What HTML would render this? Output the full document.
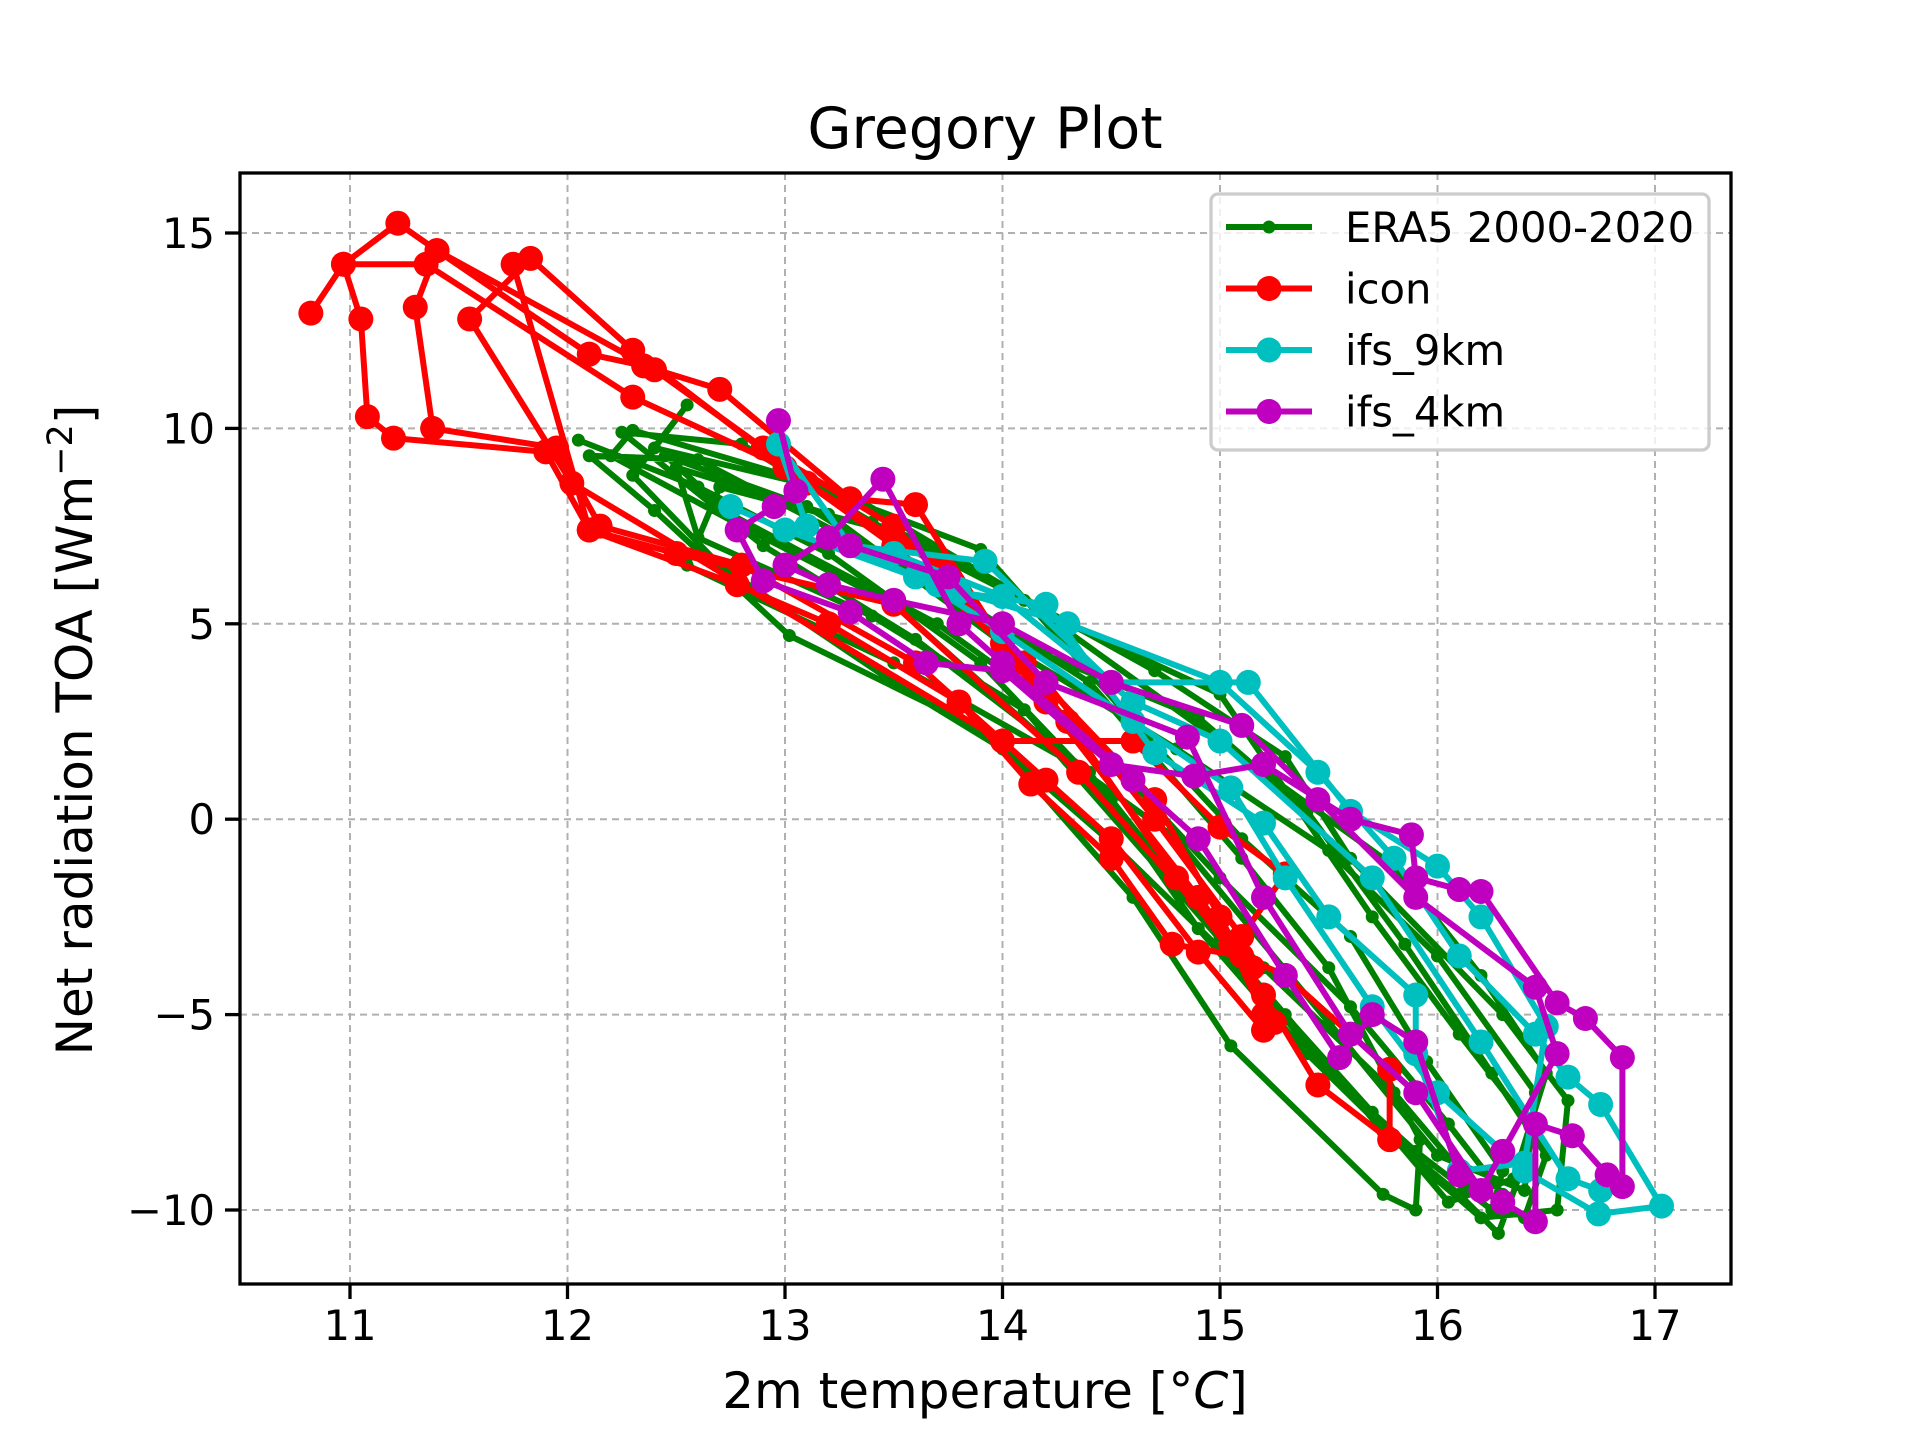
<!DOCTYPE html>
<html><head><meta charset="utf-8">
<style>
html,body{margin:0;padding:0;background:#fff;}
svg{display:block;font-family:"DejaVu Sans","Liberation Sans",sans-serif;}
</style></head>
<body>
<svg id="chart" width="1920" height="1440" viewBox="0 0 1920 1440" xmlns="http://www.w3.org/2000/svg">
<rect width="1920" height="1440" fill="#fff"/>
<text x="985" y="148" font-size="57" text-anchor="middle">Gregory Plot</text>
<g id="grid"></g>
<g id="series"></g>
<rect x="240" y="173" width="1491" height="1111" fill="none" stroke="#000" stroke-width="3.3"/>
<g id="ticks"></g>
<text x="985" y="1408" font-size="50" text-anchor="middle">2m temperature [<tspan>°</tspan><tspan font-style="italic">C</tspan>]</text>
<text transform="translate(92,730) rotate(-90)" font-size="50" text-anchor="middle">Net radiation TOA [Wm<tspan baseline-shift="super" font-size="35">−2</tspan>]</text>
<g id="legend"></g>
</svg>
<script>
const xTicks=[11,12,13,14,15,16,17];
const yTicks=[15,10,5,0,-5,-10];
const yTickLabels=["15","10","5","0","−5","−10"];
const seriesNames=["ERA5 2000-2020","icon","ifs_9km","ifs_4km"];
const era5=[[12.05,9.7],[12.6,8.5],[13.2,6.8],[13.9,4.0],[14.5,0.5],[15.0,-3.0],[15.5,-6.5],[15.9,-8.5],[16.25,-10.0],[16.3,-9.0],[15.95,-6.2],[15.6,-3.0],[15.1,-0.5],[14.6,2.5],[13.9,6.9],[13.0,8.8],[12.3,9.95],[12.2,9.3],[12.8,7.5],[13.5,5.5],[14.2,2.0],[14.8,-1.8],[15.3,-5.0],[15.75,-8.0],[16.1,-9.6],[16.28,-10.6],[16.45,-8.0],[16.1,-5.5],[15.7,-2.5],[15.0,3.2],[14.3,5.0],[13.3,8.3],[12.4,9.5],[12.55,10.6],[12.3,8.8],[12.7,6.5],[13.5,3.5],[14.0,1.8],[14.6,-2.0],[15.05,-5.8],[15.75,-9.6],[15.9,-10.0],[15.92,-8.2],[15.5,-3.8],[15.1,-1.0],[14.4,3.5],[13.7,6.0],[12.6,9.2],[12.1,9.3],[12.4,7.9],[13.02,4.7],[13.9,2.3],[14.5,-0.6],[15.2,-4.4],[15.7,-7.5],[16.05,-9.8],[16.35,-9.2],[16.5,-6.5],[16.2,-4.0],[15.8,-1.2],[15.0,2.0],[14.1,5.6],[13.4,7.6],[12.8,9.6],[12.25,9.9],[12.9,7.0],[13.6,4.6],[14.4,1.2],[14.9,-2.8],[15.4,-6.0],[15.95,-9.0],[16.2,-10.2],[16.55,-10.0],[16.6,-7.2],[16.3,-5.0],[15.6,-1.0],[15.3,1.6],[14.7,3.8],[13.6,7.2],[12.7,8.5],[12.55,6.5],[13.5,4.0],[14.3,1.5],[14.8,-0.5],[15.5,-5.2],[16.0,-8.6],[16.4,-9.5],[16.45,-7.0],[16.0,-3.5],[15.5,-0.8],[14.8,1.8],[14.0,4.5],[13.2,7.8],[12.5,9.0],[12.6,7.2],[13.4,5.2],[14.1,2.8],[14.7,-1.0],[15.2,-3.8],[15.8,-7.0],[16.15,-9.3],[16.4,-10.2],[16.5,-8.6],[16.25,-6.5],[15.85,-3.2],[15.4,0.2],[14.9,2.6],[14.2,4.2],[13.1,8.0],[12.45,9.3],[12.75,7.8],[13.7,5.0],[14.35,2.4],[15.0,-1.5],[15.6,-4.8],[16.05,-7.8],[16.3,-9.6]];
const icon=[[10.82,12.95],[10.97,14.2],[11.22,15.25],[11.4,14.55],[12.1,11.9],[12.35,11.6],[12.7,11.0],[13.3,8.2],[13.6,8.05],[14.0,4.5],[14.3,2.5],[14.8,-1.5],[15.2,-4.5],[15.45,-6.8],[15.78,-8.2],[15.78,-6.4],[15.3,-4.0],[15.1,-3.5],[14.78,-3.2],[14.5,-1.0],[14.13,0.9],[13.8,3.0],[13.2,5.0],[12.78,6.0],[12.1,7.4],[11.9,9.4],[11.2,9.75],[11.08,10.3],[11.05,12.8],[10.97,14.2],[11.35,14.2],[12.3,10.8],[13.0,9.0],[13.5,7.0],[14.1,4.0],[14.7,0.5],[15.0,-2.5],[15.25,-5.2],[15.2,-5.4],[14.9,-3.4],[14.5,-0.5],[14.2,1.0],[13.6,4.0],[12.8,6.5],[12.15,7.5],[11.95,9.5],[11.38,10.0],[11.3,13.1],[11.4,14.55],[12.4,11.5],[12.9,9.5],[13.5,7.5],[14.2,3.5],[14.7,0.0],[15.1,-3.0],[15.3,-1.4],[15.0,-0.2],[14.6,2.0],[14.0,2.0],[12.02,8.6],[11.55,12.8],[11.83,14.35],[12.3,12.0],[13.1,8.6],[13.7,6.5],[14.2,3.0],[14.9,-2.0],[15.15,-3.8],[15.2,-5.0],[15.05,-3.2],[14.35,1.2],[13.5,5.5],[12.5,6.8],[12.1,7.4],[11.75,14.2]];
const ifs9=[[12.75,8.0],[13.0,7.4],[13.7,6.0],[14.3,5.0],[15.0,3.5],[15.45,1.2],[15.8,-1.0],[16.1,-3.5],[16.45,-5.5],[16.6,-6.6],[16.75,-7.3],[17.03,-9.9],[16.74,-10.1],[16.4,-9.0],[16.0,-7.0],[15.7,-4.8],[15.3,-1.5],[15.05,0.8],[14.6,2.5],[14.0,4.8],[13.6,6.2],[13.1,7.5],[12.97,9.6],[13.3,7.0],[13.92,6.6],[14.5,3.5],[15.13,3.5],[15.6,0.2],[16.0,-1.2],[16.2,-2.5],[16.5,-5.3],[16.4,-8.8],[16.1,-9.0],[15.9,-6.0],[15.9,-4.5],[15.5,-2.5],[15.2,-0.1],[14.7,1.7],[14.2,5.5],[13.8,5.8],[13.5,6.8],[14.0,5.7],[14.6,3.0],[15.0,2.0],[15.7,-1.5],[16.2,-5.7],[16.6,-9.2],[16.75,-9.5]];
const ifs4=[[12.97,10.2],[13.05,8.4],[12.95,8.0],[12.78,7.4],[12.9,6.1],[13.3,5.3],[13.65,4.0],[14.0,3.8],[14.5,1.4],[14.88,1.1],[15.2,1.4],[15.6,0],[15.88,-0.4],[15.9,-1.5],[16.1,-1.8],[16.2,-1.85],[16.55,-4.7],[16.68,-5.1],[16.85,-6.1],[16.85,-9.4],[16.78,-9.1],[16.62,-8.1],[16.45,-7.8],[16.45,-10.3],[16.3,-9.8],[16.1,-9.1],[15.9,-5.7],[15.7,-5.0],[15.55,-6.1],[15.3,-4.0],[14.9,-0.5],[14.6,1.0],[14.0,4.0],[13.8,5.0],[13.45,8.7],[13.2,7.2],[13.0,6.5],[13.2,6.0],[13.5,5.6],[14.0,5.0],[14.5,3.5],[15.1,2.4],[15.45,0.5],[15.9,-2.0],[16.45,-4.3],[16.55,-6.0],[16.3,-8.5],[16.2,-9.5],[15.9,-7.0],[15.6,-5.5],[15.2,-2.0],[14.85,2.1],[14.2,3.5],[13.75,6.2],[13.3,7.0]];

const NS="http://www.w3.org/2000/svg";
const X=v=>350+(v-11)*217.5;
const Y=v=>233+(15-v)*39.08;
function mk(tag,attrs,parent){const e=document.createElementNS(NS,tag);for(const k in attrs)e.setAttribute(k,attrs[k]);parent.appendChild(e);return e;}
const grid=document.getElementById('grid'),ticks=document.getElementById('ticks'),ser=document.getElementById('series'),leg=document.getElementById('legend');
xTicks.forEach(t=>{
  const g=mk('line',{x1:X(t),x2:X(t),y1:173,y2:1284,stroke:'#b0b0b0','stroke-width':2,'stroke-dasharray':'7,5'},grid);
  
  
  const tk=mk('line',{x1:X(t),x2:X(t),y1:1284,y2:1299,stroke:'#000','stroke-width':3.3},ticks);
  
  
  const tl=mk('text',{x:X(t),y:1340,'font-size':41.7,'text-anchor':'middle'},ticks);
  
  
  tl.textContent=String(t);
});
yTicks.forEach((t,i)=>{
  const g=mk('line',{x1:240,x2:1731,y1:Y(t),y2:Y(t),stroke:'#b0b0b0','stroke-width':2,'stroke-dasharray':'7,5'},grid);
  
  
  const tk=mk('line',{x1:225,x2:240,y1:Y(t),y2:Y(t),stroke:'#000','stroke-width':3.3},ticks);
  
  
  const tl=mk('text',{x:215,y:Y(t)+15,'font-size':41.7,'text-anchor':'end'},ticks);
  
  
  tl.textContent=yTickLabels[i];
});
const styles=[{c:'#008000',r:6.5,w:6},{c:'#ff0000',r:12.5,w:6},{c:'#00bfbf',r:12.5,w:6},{c:'#bf00bf',r:12.5,w:6}];
const data=[era5,icon,ifs9,ifs4];
const keys=['era5','icon','ifs-9km','ifs-4km'];
data.forEach((d,i)=>{
  const s=styles[i];
  const g=mk('g',{},ser);
  
  
  const p=mk('polyline',{points:d.map(q=>X(q[0])+','+Y(q[1])).join(' '),fill:'none',stroke:s.c,'stroke-width':s.w,'stroke-linejoin':'round'},g);
  
  
  d.forEach(q=>{
    const c=mk('circle',{cx:X(q[0]),cy:Y(q[1]),r:s.r,fill:s.c},g);
    
    
  });
});
const lb=mk('rect',{x:1211,y:194,width:498,height:256,rx:7,fill:'#fff','fill-opacity':0.8,stroke:'#cccccc','stroke-width':3.3},leg);


seriesNames.forEach((n,i)=>{
  const y=227+i*61.5, s=styles[i];
  const g=mk('g',{},leg);
  
  
  mk('line',{x1:1226,x2:1312,y1:y,y2:y,stroke:s.c,'stroke-width':s.w},g);
  mk('circle',{cx:1269,cy:y,r:s.r,fill:s.c},g);
  const t=mk('text',{x:1345,y:y+15,'font-size':41.7},g);
  t.textContent=n;
});
</script>
</body></html>
